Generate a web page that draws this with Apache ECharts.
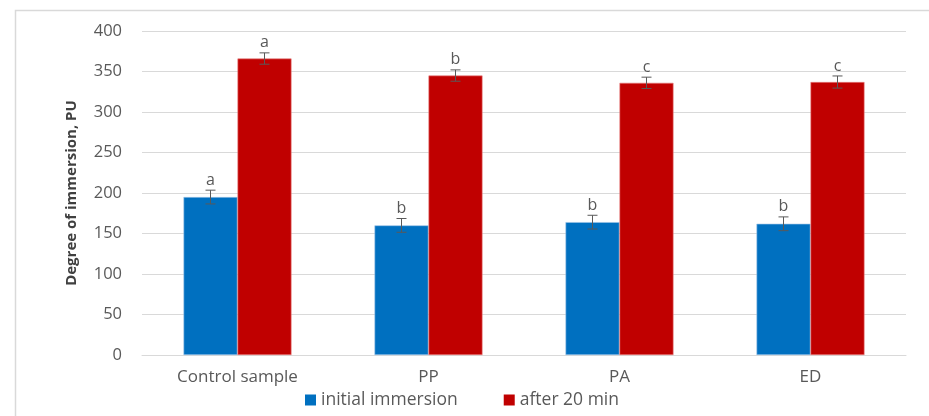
<!DOCTYPE html>
<html>
<head>
<meta charset="utf-8">
<script src="https://cdn.jsdelivr.net/npm/echarts@6/dist/echarts.min.js"></script>
<style>
html,body{margin:0;padding:0;background:#fff;}
#c{width:929px;height:416px;}
</style>
</head>
<body>
<div id="c"></div>
<script>
var categories = ['Control sample', 'PP', 'PA', 'ED'];
var initialValues = [195, 160, 164, 162];
var initialErrors = [8.5, 8.5, 8.5, 8.5];
var initialLetters = ['a', 'b', 'b', 'b'];
var afterValues = [366, 345, 336, 337];
var afterErrors = [7, 7, 7, 7.5];
var afterLetters = ['a', 'b', 'c', 'c'];
var yTicks = [0, 50, 100, 150, 200, 250, 300, 350, 400];

var FONT = 'Open Sans';
var BAR_W = 54;

function errorSeries(name, values, errors, letters, sign) {
  return {
    type: 'custom',
    name: name + ' err',
    z: 5,
    silent: true,
    data: values.map(function (v, i) { return [i, v, errors[i], letters[i]]; }),
    renderItem: function (params, api) {
      var idx = api.value(0), v = api.value(1), e = api.value(2);
      var c = api.coord([idx, v]);
      var x = c[0] + sign * BAR_W / 2;
      var top = api.coord([idx, v + e])[1];
      var bot = api.coord([idx, v - e])[1];
      var cap = 5;
      var st = { stroke: '#595959', lineWidth: 1 };
      return {
        type: 'group',
        children: [
          { type: 'line', shape: { x1: x, y1: top, x2: x, y2: bot }, style: st },
          { type: 'line', shape: { x1: x - cap, y1: top, x2: x + cap, y2: top }, style: st },
          { type: 'line', shape: { x1: x - cap, y1: bot, x2: x + cap, y2: bot }, style: st },
          { type: 'text', style: { text: letters[params.dataIndex], x: x, y: top - 2,
              align: 'center', verticalAlign: 'bottom', fill: '#595959',
              font: '16px "' + FONT + '"' } }
        ]
      };
    }
  };
}

var chart = echarts.init(document.getElementById('c'), null, { renderer: 'canvas' });
chart.setOption({
  animation: false,
  backgroundColor: '#fff',
  graphic: [{
    type: 'rect',
    shape: { x: 15.5, y: 10.5, width: 960, height: 460 },
    style: { fill: 'none', stroke: '#d9d9d9', lineWidth: 1.5 },
    silent: true
  }],
  grid: { left: 142, right: 23, top: 31, bottom: 61 },
  legend: {
    data: ['initial immersion', 'after 20 min'],
    left: 300, top: 386,
    itemWidth: 11, itemHeight: 11, itemGap: 46,
    icon: 'rect',
    itemStyle: { borderWidth: 0 },
    textStyle: { fontFamily: FONT, fontSize: 17.5, color: '#595959', padding: [0, 0, 0, 0] }
  },
  xAxis: {
    type: 'category',
    data: categories,
    axisLine: { lineStyle: { color: '#d9d9d9', width: 1 } },
    axisTick: { show: false },
    axisLabel: { fontFamily: FONT, fontSize: 17, color: '#595959', margin: 14 }
  },
  yAxis: {
    type: 'value',
    min: 0, max: 400, interval: 50,
    name: 'Degree of immersion, PU',
    nameLocation: 'middle',
    nameGap: 63,
    nameTextStyle: { fontFamily: FONT, fontSize: 15, fontWeight: 'bold', color: '#404040' },
    axisLine: { show: false },
    axisTick: { show: false },
    axisLabel: { fontFamily: FONT, fontSize: 16.5, color: '#595959', margin: 20,
      formatter: function (v) { return yTicks.indexOf(v) >= 0 ? String(v) : ''; } },
    splitLine: { lineStyle: { color: '#d9d9d9', width: 1 } }
  },
  series: [
    {
      name: 'initial immersion', type: 'bar', data: initialValues,
      barWidth: BAR_W, barGap: '0%',
      itemStyle: { color: '#0070C0', borderColor: '#9dc3e6', borderWidth: 0.6 }
    },
    {
      name: 'after 20 min', type: 'bar', data: afterValues,
      barWidth: BAR_W, barGap: '0%',
      itemStyle: { color: '#C00000', borderColor: '#e88080', borderWidth: 0.6 }
    },
    errorSeries('initial immersion', initialValues, initialErrors, initialLetters, -1),
    errorSeries('after 20 min', afterValues, afterErrors, afterLetters, 1)
  ]
});
</script>
</body>
</html>
